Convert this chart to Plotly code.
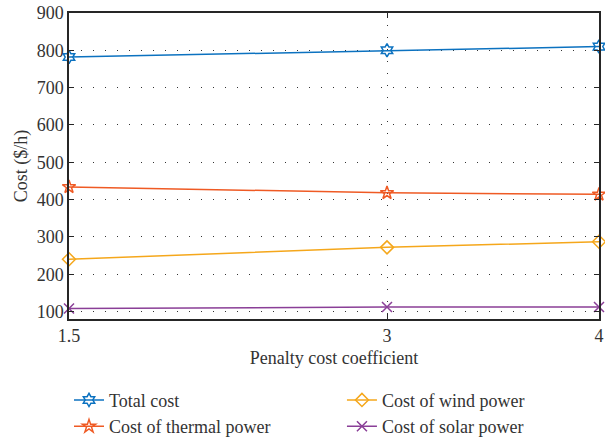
import plotly.graph_objects as go

# Penalty cost coefficients on the x axis
penalty = [1.5, 3, 4]

# Cost components ($/h)
total_cost = [782, 800, 810]
thermal_cost = [434, 418, 414]
wind_cost = [240, 272, 287]
solar_cost = [108, 112, 112]

y_ticks = [100, 200, 300, 400, 500, 600, 700, 800, 900]
x_ticks = [1.5, 3, 4]

# name, values, colour, marker symbol, legend box
series = [
    ("Total cost", total_cost, "#0c72c0", "hexagram-open", "legend"),
    ("Cost of thermal power", thermal_cost, "#ef5a24", "star-open", "legend"),
    ("Cost of wind power", wind_cost, "#f5a71b", "diamond-open", "legend2"),
    ("Cost of solar power", solar_cost, "#8a3f97", "x-thin-open", "legend2"),
]

fig = go.Figure()
for name, vals, color, symbol, leg in series:
    fig.add_trace(go.Scatter(
        x=penalty, y=vals, name=name, mode="lines+markers",
        line=dict(color=color, width=1.5),
        marker=dict(symbol=symbol, size=10, color=color,
                    line=dict(color=color, width=1.5)),
        legend=leg, legendgroup=name, cliponaxis=False,
    ))

font_family = "Liberation Serif, DejaVu Serif, serif"
text_color = "#333333"
axis_common = dict(
    showline=True, linecolor="#262626", linewidth=1.5, mirror="allticks",
    ticks="inside", ticklen=5, tickcolor="#262626", tickwidth=1,
    showgrid=True, gridcolor="#333333", gridwidth=1, griddash="1px,11px",
    zeroline=False, tickfont=dict(size=18, color=text_color),
)

fig.update_xaxes(
    range=[1.5, 4], tickvals=x_ticks, ticktext=["1.5", "3", "4"],
    title=dict(text="Penalty cost coefficient", font=dict(size=18, color=text_color), standoff=6),
    **axis_common,
)
fig.update_yaxes(
    range=[80, 900], tickvals=y_ticks,
    title=dict(text="Cost ($/h)", font=dict(size=18, color=text_color), standoff=4),
    **axis_common,
)

legend_common = dict(
    orientation="v", yanchor="top", y=-0.205,
    font=dict(size=18, color=text_color), bgcolor="rgba(0,0,0,0)",
    tracegroupgap=0,
)

fig.update_layout(
    width=605, height=440,
    margin=dict(l=69, r=6, t=13, b=121, autoexpand=False),
    paper_bgcolor="white", plot_bgcolor="white",
    font=dict(family=font_family, color=text_color, size=18),
    legend=dict(x=0.0, xanchor="left", **legend_common),
    legend2=dict(x=0.515, xanchor="left", **legend_common),
    showlegend=True,
)

fig.write_html("out.html")
